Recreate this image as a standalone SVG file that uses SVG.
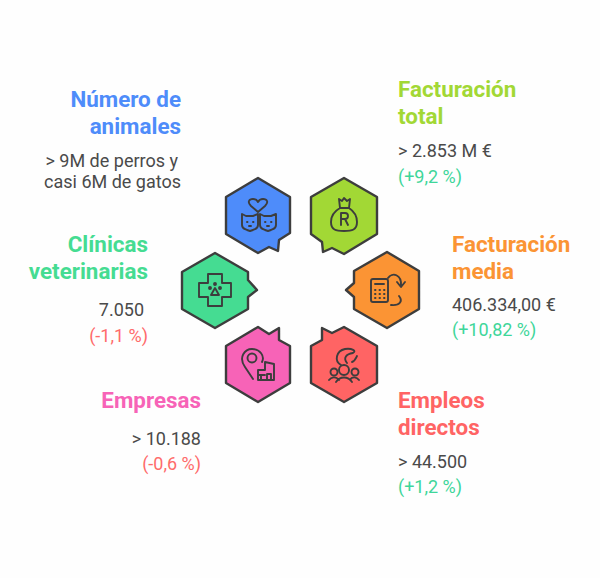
<svg xmlns="http://www.w3.org/2000/svg" width="600" height="578" viewBox="0 0 600 578">
<style>
text{font-family:Roboto,"Liberation Sans",sans-serif}
.t{font-size:22.4px;font-weight:700}
.b{font-size:18px;fill:#4a4a4a}
.g{font-size:18px;fill:#3fd69a}
.r{font-size:18px;fill:#ff6b6b}
.e{text-anchor:end}
.h{stroke:#3d3d3d;stroke-width:2.4;stroke-linejoin:round}
.i{fill:none;stroke:#3d3d3d;stroke-width:1.9;stroke-linecap:round;stroke-linejoin:round}
</style>
<rect width="600" height="578" fill="#fefefe"/>
<g id="connectors"/>
<g id="node-animales">
<path class="h" fill="#4e8cfa" d="M258,178L290,197V233L279,240L278,251L269,247L258,253L226,234V197Z"/>
<path class="i" d="M258,212L251,206C247,202 249,199 253,199C255,199 257,200 258,202C259,200 261,199 263,199C267,199 269,202 265,206Z"/>
<path class="i" d="M242,214L246,216H253L258,214V225C258,229 255,229 253,230L250,231L247,230C245,229 242,229 242,225Z"/>
<path class="i" d="M260,214L264,216H271L276,214V225C276,229 273,229 271,230L268,231L265,230C263,229 260,229 260,225Z"/>
<path class="i" d="M247,222h.5M253,222h.5M265,222h.5M271,222h.5M249,226h2M267,226h2"/>
<text class="t e" x="181" y="107" fill="#4e8cfa">Número de</text>
<text class="t e" x="181" y="134" fill="#4e8cfa">animales</text>
<text class="b e" x="178" y="167">&gt; 9M de perros y</text>
<text class="b e" x="181" y="188">casi 6M de gatos</text>
</g>
<g id="node-facturacion-total">
<path class="h" fill="#a2d835" d="M344,178L377,197V234L344,254L332,248L323,252L322,242L311,234V197Z"/>
<path class="i" d="M340,208L339,199L342,201L344,198L347,201L350,199L349,208C355,212 357,218 357,222C357,230 352,231 344,231C336,231 331,230 331,222C331,218 333,212 340,208ZM340,208H349"/>
<path class="i" d="M341,225V213H345C349,213 349,219 345,219H341M345,219L348,225"/>
<text class="t" x="398" y="97" fill="#a2d835">Facturación</text>
<text class="t" x="398" y="124" fill="#a2d835">total</text>
<text class="b" x="398" y="157">&gt; 2.853 M €</text>
<text class="g" x="398" y="183">(+9,2 %)</text>
</g>
<g id="node-clinicas">
<path class="h" fill="#45dc92" d="M215,253L248,272V280L257,290L248,297V309L215,328L182,309V272Z"/>
<path class="i" d="M208,274H222V283H231V297H222V306H208V297H199V283H208Z"/>
<path class="i" d="M215,288L219,295H211Z"/>
<circle class="i" cx="210" cy="288" r="1"/><circle class="i" cx="215" cy="284" r="1"/><circle class="i" cx="220" cy="288" r="1"/>
<text class="t e" x="148" y="252" fill="#45dc92">Clínicas</text>
<text class="t e" x="148" y="279" fill="#45dc92">veterinarias</text>
<text class="b e" x="144" y="316">7.050</text>
<text class="r e" x="148" y="342">(-1,1 %)</text>
</g>
<g id="node-media">
<path class="h" fill="#fb9434" d="M387,252L419,271V309L387,328L354,309V297L346,290L354,283V271Z"/>
<rect class="i" x="371" y="279" width="17" height="23" rx="2"/>
<path class="i" d="M375,284H384M375,290h.5M379.500,290h.5M384,290h.5M375,294h.5M379.500,294h.5M384,294h.5M375,298h.5M379.500,298h.5M384,298h.5"/>
<path class="i" d="M388,278C392,272 402,274 401,286M397,282L401,287L405,282M399,296C403,301 400,306 391,305"/>
<text class="t" x="452" y="252" fill="#fb9434">Facturación</text>
<text class="t" x="452" y="279" fill="#fb9434">media</text>
<text class="b" x="452" y="311">406.334,00 €</text>
<text class="g" x="452" y="336">(+10,82 %)</text>
</g>
<g id="node-empresas">
<path class="h" fill="#f763b7" d="M258,327L269,334L279,328V340L290,346V383L258,402L226,383V346Z"/>
<path class="i" d="M253,379L245,367C238,357 245,349 252,349C260,349 265,356 262,362"/>
<circle class="i" cx="252" cy="358" r="4.500"/>
<path class="i" d="M258,380V370H265V362L274,364V380ZM258,375H265M267,380V374H271V380M261,380V375"/>
<text class="t e" x="201" y="408" fill="#f763b7">Empresas</text>
<text class="b e" x="201" y="445">&gt; 10.188</text>
<text class="r e" x="201" y="470">(-0,6 %)</text>
</g>
<g id="node-empleos">
<path class="h" fill="#ff6464" d="M344,327L377,346V383L344,402L311,383V346L322,340V328L332,333Z"/>
<path class="i" d="M341,365C334,361 336,351 345,349C352,348 357,351 353,353C346,354 343,358 347,363M352,362C355,361 356,358 357,356"/>
<circle class="i" cx="344" cy="370" r="5"/>
<circle class="i" cx="334" cy="372" r="3.500"/>
<circle class="i" cx="355" cy="372" r="3.500"/>
<path class="i" d="M329,380C331,377 336,376 339,380M350,380C352,376 357,377 359,380M336,382C340,376 348,376 352,382"/>
<text class="t" x="398" y="408" fill="#ff6464">Empleos</text>
<text class="t" x="398" y="435" fill="#ff6464">directos</text>
<text class="b" x="398" y="468">&gt; 44.500</text>
<text class="g" x="398" y="493">(+1,2 %)</text>
</g>
</svg>
